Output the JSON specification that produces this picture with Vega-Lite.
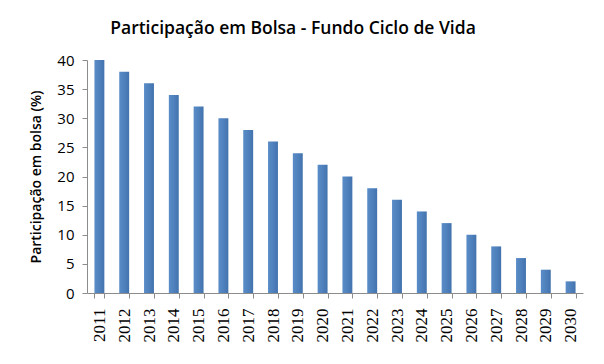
{
  "$schema": "https://vega.github.io/schema/vega-lite/v6.json",
  "width": 496,
  "height": 233,
  "autosize": "none",
  "padding": {"left": 87, "top": 60, "right": 21, "bottom": 71},
  "background": "white",
  "title": {
    "text": "Participação em Bolsa - Fundo Ciclo de Vida",
    "font": "Open Sans",
    "fontSize": 17.5,
    "fontWeight": 600,
    "color": "#000000",
    "anchor": "middle",
    "dx": -42,
    "offset": 16
  },
  "data": {
    "values": [
      {"ano": "2011", "valor": 40},
      {"ano": "2012", "valor": 38},
      {"ano": "2013", "valor": 36},
      {"ano": "2014", "valor": 34},
      {"ano": "2015", "valor": 32},
      {"ano": "2016", "valor": 30},
      {"ano": "2017", "valor": 28},
      {"ano": "2018", "valor": 26},
      {"ano": "2019", "valor": 24},
      {"ano": "2020", "valor": 22},
      {"ano": "2021", "valor": 20},
      {"ano": "2022", "valor": 18},
      {"ano": "2023", "valor": 16},
      {"ano": "2024", "valor": 14},
      {"ano": "2025", "valor": 12},
      {"ano": "2026", "valor": 10},
      {"ano": "2027", "valor": 8},
      {"ano": "2028", "valor": 6},
      {"ano": "2029", "valor": 4},
      {"ano": "2030", "valor": 2}
    ]
  },
  "mark": {
    "type": "bar",
    "color": {
      "gradient": "linear",
      "x1": 0, "y1": 0, "x2": 1, "y2": 0,
      "stops": [
        {"offset": 0, "color": "#5a8cc8"},
        {"offset": 0.5, "color": "#4f81bd"},
        {"offset": 1, "color": "#4373ad"}
      ]
    }
  },
  "encoding": {
    "x": {
      "field": "ano",
      "type": "ordinal",
      "title": null,
      "scale": {"paddingInner": 0.6, "paddingOuter": 0.3},
      "axis": {
        "labelAngle": -90,
        "labelFont": "Liberation Serif",
        "labelFontSize": 17,
        "labelColor": "#000000",
        "labelPadding": 10,
        "tickBand": "extent",
        "tickSize": 5,
        "tickColor": "#8c8c8c",
        "domainColor": "#8c8c8c",
        "labelBaseline": "middle",
        "labelAlign": "right"
      }
    },
    "y": {
      "field": "valor",
      "type": "quantitative",
      "title": "Participação em bolsa (%)",
      "scale": {"domain": [0, 40], "nice": false},
      "axis": {
        "values": [0, 5, 10, 15, 20, 25, 30, 35, 40],
        "grid": false,
        "labelFont": "Open Sans",
        "labelFontSize": 15,
        "labelColor": "#000000",
        "labelPadding": 8,
        "tickSize": 5,
        "tickColor": "#8c8c8c",
        "domainColor": "#8c8c8c",
        "titleFont": "Open Sans",
        "titleFontSize": 14,
        "titleFontWeight": 600,
        "titleColor": "#000000",
        "titlePadding": 13
      }
    }
  },
  "config": {
    "view": {"stroke": null}
  }
}
